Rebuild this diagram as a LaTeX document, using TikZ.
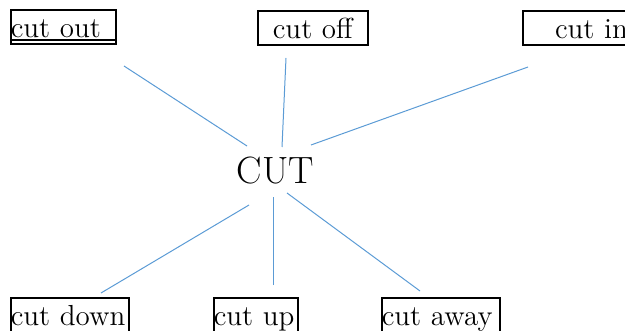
\documentclass[tikz,border=0pt]{standalone}
\usepackage{tikz}
\usepackage{amsmath}

\definecolor{linkblue}{RGB}{91,155,213}

\begin{document}
\begin{tikzpicture}[x=0.5pt,y=-0.5pt,
    word/.style={draw, line width=0.8pt, inner sep=0pt, anchor=north west,
      font=\fontsize{14.5}{17}\selectfont},
    topbox/.style={word, text height=14pt, text depth=3pt},
    botbox/.style={word, text height=14pt, text depth=4pt},
    link/.style={linkblue, line width=0.5pt}]
      \useasboundingbox (0,0) rectangle (625,331);
      % top row
      \node [topbox, text width=52.5pt, align=left] (out) at (10,9)
        {\makebox[52.5pt][l]{cut out}\llap{\rule[-1.6pt]{52.5pt}{0.75pt}}};
      \node [topbox, text width=55pt, align=center] (off) at (257,10) {cut off};
      \node [topbox, text width=52.5pt, align=right] (in) at (522,10) {cut in};
      % centre word
      \node [font=\fontsize{19}{22}\selectfont, inner sep=0pt] (cut) at (275.5,171) {CUT};
      % bottom row
      \node [botbox, text width=59pt, align=left] (down) at (10,297) {cut down};
      \node [botbox, text width=42pt, align=left] (up) at (213,297) {cut up};
      \node [botbox, text width=59pt, align=left] (away) at (381,297) {cut away};
      % line ends
      \coordinate (out-a) at (124,66);   \coordinate (out-b) at (247,146);
      \coordinate (off-a) at (286,58);   \coordinate (off-b) at (282,147);
      \coordinate (in-a) at (528,67);    \coordinate (in-b) at (311,145);
      \coordinate (down-a) at (101,293); \coordinate (down-b) at (249,205);
      \coordinate (up-a) at (273,285);   \coordinate (up-b) at (273,197);
      \coordinate (away-a) at (420,291); \coordinate (away-b) at (287,193);
      \draw [link] (out-a) -- (out-b);
      \draw [link] (off-a) -- (off-b);
      \draw [link] (in-a) -- (in-b);
      \draw [link] (down-a) -- (down-b);
      \draw [link] (up-a) -- (up-b);
      \draw [link] (away-a) -- (away-b);
\end{tikzpicture}
\end{document}
